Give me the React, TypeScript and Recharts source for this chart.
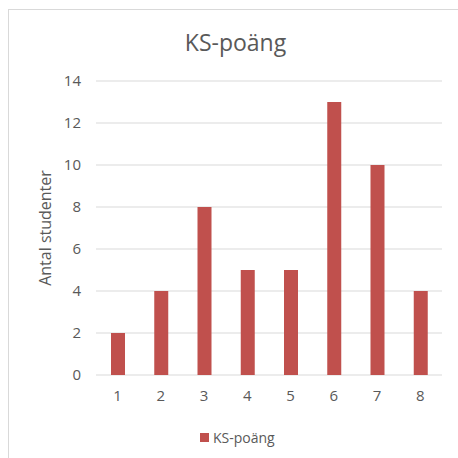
import React from "react";
import { Bar, BarChart, CartesianGrid, Legend, XAxis, YAxis } from "recharts";

const scores = ["1", "2", "3", "4", "5", "6", "7", "8"];
const students = [2, 4, 8, 5, 5, 13, 10, 4];
const yTicks = [0, 2, 4, 6, 8, 10, 12, 14];

const data = scores.map((score, i) => ({ score, students: students[i] }));

const TEXT = "#595959";
const BAR = "#C0504D";
const GRID = "#D9D9D9";
const FONT = "'Open Sans', sans-serif";

function LegendContent() {
  return (
    <div style={{ display: "flex", alignItems: "center", fontFamily: FONT, fontSize: 14, color: TEXT }}>
      <span style={{ width: 9, height: 9, background: BAR, display: "inline-block", marginRight: 4 }} />
      <span>KS-poäng</span>
    </div>
  );
}

export default function App() {
  return (
    <div style={{ position: "absolute", left: 0, top: 0, width: 458, height: 458, background: "#fff", overflow: "hidden", fontFamily: FONT }}>
      <div style={{ position: "absolute", left: 8, top: 9, width: 470, height: 470, border: `1px solid ${GRID}`, boxSizing: "border-box" }} />
      <div style={{ position: "absolute", left: 0, width: 471, top: 26, textAlign: "center", fontSize: 23, color: TEXT }}>
        KS-poäng
      </div>
      <div style={{ position: "absolute", left: 0, top: 0 }}>
        <BarChart width={458} height={458} data={data} margin={{ top: 81, right: 16, bottom: 53, left: 0 }}>
          <CartesianGrid vertical={false} stroke={GRID} />
          <XAxis
            dataKey="score"
            axisLine={false}
            tickLine={false}
            tickSize={0}
            tickMargin={15}
            height={30}
            tick={{ fill: TEXT, fontSize: 15, fontFamily: FONT }}
          />
          <YAxis
            domain={[0, 14]}
            ticks={yTicks}
            axisLine={false}
            tickLine={false}
            tickSize={0}
            tickMargin={15}
            width={96}
            tick={{ fill: TEXT, fontSize: 15, fontFamily: FONT }}
            label={{
              value: "Antal studenter",
              angle: -90,
              position: "insideLeft",
              offset: 45,
              style: { textAnchor: "middle", fill: TEXT, fontSize: 16, fontFamily: FONT }
            }}
          />
          <Legend
            verticalAlign="middle"
            align="center"
            content={<LegendContent />}
            wrapperStyle={{ position: "absolute", top: 428, left: 200, width: "auto" }}
          />
          <Bar dataKey="students" name="KS-poäng" fill={BAR} barSize={14} isAnimationActive={false} />
        </BarChart>
      </div>
    </div>
  );
}
